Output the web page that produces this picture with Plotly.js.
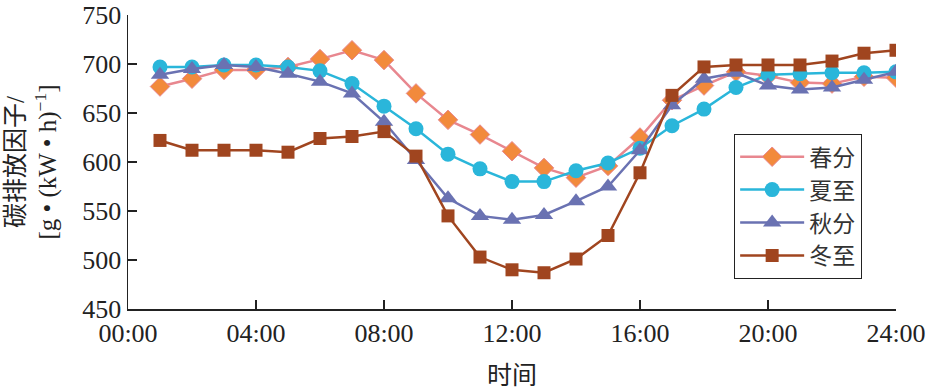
<!DOCTYPE html>
<html>
<head>
<meta charset="utf-8">
<script src="https://cdn.plot.ly/plotly-3.0.1.min.js"></script>
<style>html,body{margin:0;padding:0;background:#fff;}#chart{width:930px;height:389px;}</style>
</head>
<body>
<div id="chart"></div>
<script>
var hours = [1,2,3,4,5,6,7,8,9,10,11,12,13,14,15,16,17,18,19,20,21,22,23,24];
var tickVals = [0,4,8,12,16,20,24];
var tickLabels = ["00:00","04:00","08:00","12:00","16:00","20:00","24:00"];
var seriesNames = ["春分","夏至","秋分","冬至"];
var spring = [677,685,694,694,697,705,714,704,670,643,628,611,594,584,596,625,663,678,692,688,681,680,687,686];
var summer = [697,697,699,699,697,693,680,657,634,608,593,580,580,591,599,614,637,654,676,689,690,691,691,692];
var autumn = [689,695,699,697,690,682,670,641,602,563,545,541,546,560,575,612,658,685,691,678,674,676,684,692];
var winter = [622,612,612,612,610,624,626,631,606,545,503,490,487,501,525,589,668,697,699,699,699,703,711,714];

var FONT = "Liberation Serif, 'Noto Sans CJK SC', serif";
var traces = [
  {x:hours, y:spring, name:seriesNames[0], mode:"lines+markers",
   line:{color:"#E8878F", width:2.5},
   marker:{symbol:"diamond", size:15, color:"#F28A3C", line:{color:"#E8878F", width:1}}},
  {x:hours, y:summer, name:seriesNames[1], mode:"lines+markers",
   line:{color:"#2AB6DA", width:2.5},
   marker:{symbol:"circle", size:15, color:"#2AB6DA"}},
  {x:hours, y:autumn, name:seriesNames[2], mode:"lines+markers",
   line:{color:"#6A72B2", width:2.5},
   marker:{symbol:"triangle-up", size:16, color:"#6A72B2"}},
  {x:hours, y:winter, name:seriesNames[3], mode:"lines+markers",
   line:{color:"#A0451F", width:2.5},
   marker:{symbol:"square", size:13, color:"#A0451F"}}
];

var layout = {
  width:930, height:389,
  margin:{l:128, r:34, t:15, b:80},
  paper_bgcolor:"#fff", plot_bgcolor:"#fff",
  font:{family:FONT, size:25, color:"#222"},
  showlegend:true,
  legend:{x:0.789, y:0.595, xanchor:"left", yanchor:"top",
          bordercolor:"#222", borderwidth:1.2, bgcolor:"#fff", itemwidth:64,
          font:{family:FONT, size:23, color:"#333"}, tracegroupgap:0},
  xaxis:{range:[0,24], tickvals:tickVals, ticktext:tickLabels,
         showgrid:false, zeroline:false, showline:true, linecolor:"#222", linewidth:1.5,
         ticks:"inside", ticklen:9, tickcolor:"#222", tickwidth:1.5,
         tickfont:{family:FONT, size:26, color:"#222"},
         title:{text:"时间", font:{family:FONT, size:25, color:"#222"}, standoff:22}},
  yaxis:{range:[450,750], dtick:50, tick0:450,
         showgrid:false, zeroline:false, showline:true, linecolor:"#222", linewidth:1.5,
         ticks:"inside", ticklen:9, tickcolor:"#222", tickwidth:1.5,
         tickfont:{family:FONT, size:26, color:"#222"},
         title:{text:"碳排放因子/<br>[g • (kW • h)<sup>−1</sup>]", font:{family:FONT, size:25, color:"#222"}, standoff:18}}
};
Plotly.newPlot("chart", traces, layout, {displayModeBar:false, staticPlot:true});
</script>
</body>
</html>
